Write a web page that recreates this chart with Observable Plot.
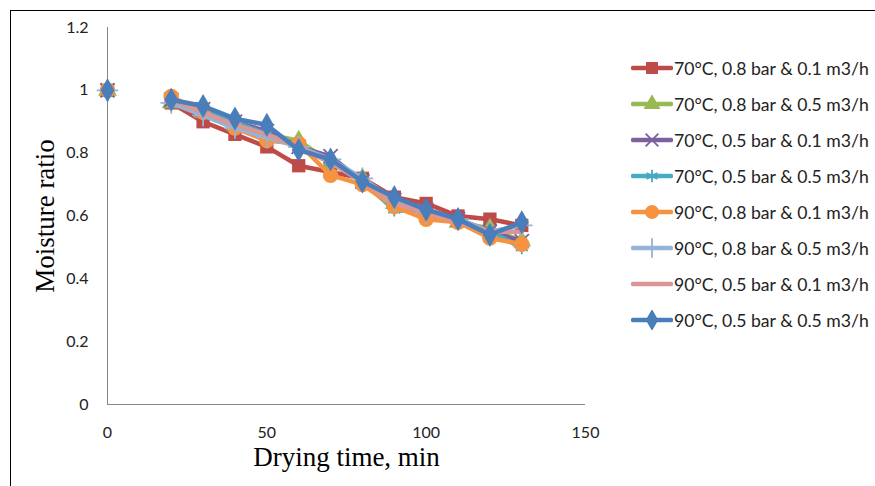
<!DOCTYPE html>
<html><head><meta charset="utf-8">
<script src="https://cdn.jsdelivr.net/npm/d3@7"></script>
<script src="https://cdn.jsdelivr.net/npm/@observablehq/plot@0.6"></script>
<style>
body{margin:0;background:#fff;}
#wrap{position:relative;width:875px;height:486px;overflow:hidden;}
#frame{position:absolute;left:10px;top:10px;width:900px;height:500px;border:1.5px solid #000;box-sizing:border-box;}
#chart{position:absolute;left:0;top:0;}
#legend{position:absolute;left:631px;top:50px;font-family:Lato,"Open Sans",sans-serif;font-size:17.6px;color:#222;}
.row{display:flex;align-items:center;height:36px;white-space:nowrap;}
.row svg{margin-right:1px;}
</style></head>
<body><div id="wrap"><div id="frame"></div><div id="chart"></div><div id="legend"></div></div>
<script>
const times = [0, 10, 20, 30, 40, 50, 60, 70, 80, 90, 100, 110, 120, 130];
const seriesNames = [
  "70°C, 0.8 bar & 0.1 m3/h",
  "70°C, 0.8 bar & 0.5 m3/h",
  "70°C, 0.5 bar & 0.1 m3/h",
  "70°C, 0.5 bar & 0.5 m3/h",
  "90°C, 0.8 bar & 0.1 m3/h",
  "90°C, 0.8 bar & 0.5 m3/h",
  "90°C, 0.5 bar & 0.1 m3/h",
  "90°C, 0.5 bar & 0.5 m3/h"
];
const s70_08_01 = [1, null, 0.96, 0.90, 0.86, 0.82, 0.76, 0.74, 0.72, 0.66, 0.64, 0.60, 0.59, 0.57];
const s70_08_05 = [1, null, 0.96, 0.93, 0.89, 0.86, 0.84, 0.77, 0.72, 0.64, 0.61, 0.58, 0.56, 0.52];
const s70_05_01 = [1, null, 0.97, 0.94, 0.90, 0.87, 0.82, 0.79, 0.71, 0.65, 0.62, 0.59, 0.55, 0.52];
const s70_05_05 = [1, null, 0.97, 0.94, 0.90, 0.86, 0.82, 0.77, 0.71, 0.62, 0.61, 0.58, 0.55, 0.50];
const s90_08_01 = [1, null, 0.98, 0.93, 0.88, 0.84, 0.83, 0.73, 0.70, 0.63, 0.59, 0.58, 0.53, 0.51];
const s90_08_05 = [1, null, 0.96, 0.92, 0.88, 0.85, 0.82, 0.78, 0.72, 0.65, 0.61, 0.59, 0.55, 0.57];
const s90_05_01 = [1, null, 0.97, 0.93, 0.89, 0.86, 0.82, 0.77, 0.71, 0.64, 0.61, 0.58, 0.55, 0.55];
const s90_05_05 = [1, null, 0.97, 0.95, 0.91, 0.89, 0.81, 0.78, 0.71, 0.66, 0.62, 0.59, 0.54, 0.58];
const seriesValues = [s70_08_01, s70_08_05, s70_05_01, s70_05_05, s90_08_01, s90_08_05, s90_05_01, s90_05_05];
const colors = ["#BE4B48", "#98B954", "#7D60A0", "#46AAC5", "#F69240", "#95B3D7", "#D99694", "#4A7EBB"];
const symbols = ["square", "triangle", "times", "asterisk", "circle", "plus", null, "diamond"];
const radii = [7.5, 7, 6.5, 6.5, 7.8, 7, 0, 7.3];
const xTicks = [0, 50, 100, 150];
const xTickLabels = ["0", "50", "100", "150"];
const yTicks = [0, 0.2, 0.4, 0.6, 0.8, 1, 1.2];
const yTickLabels = ["0", "0.2", "0.4", "0.6", "0.8", "1", "1.2"];

const data = [];
seriesNames.forEach((name, i) => times.forEach((t, j) => data.push({series: name, idx: i, time: t, mr: seriesValues[i][j]})));

const tickFont = "Lato, 'Open Sans', sans-serif";
const titleFont = "'Liberation Serif', 'Times New Roman', serif";
const marks = [
  Plot.ruleX([0], {y1: 0, y2: 1.2, stroke: "#868686", strokeWidth: 1}),
  Plot.ruleY([0], {x1: 0, x2: 150, stroke: "#868686", strokeWidth: 1}),
  Plot.axisX({ticks: xTicks, tickFormat: (d, i) => xTickLabels[i], tickSize: 0, tickPadding: 22, label: null, fontSize: 16, fontFamily: tickFont, color: "#222"}),
  Plot.axisY({ticks: yTicks, tickFormat: (d, i) => yTickLabels[i], tickSize: 0, tickPadding: 19, label: null, fontSize: 16, fontFamily: tickFont, color: "#222"}),
  Plot.text(["Moisture ratio"], {frameAnchor: "left", textAnchor: "middle", dx: -62, rotate: -90, fontFamily: titleFont, fontSize: 27, fill: "#000"}),
  Plot.text(["Drying time, min"], {frameAnchor: "bottom", textAnchor: "middle", dy: 61, fontFamily: titleFont, fontSize: 27, fill: "#000"})
];
seriesNames.forEach((name, i) => {
  const d = data.filter(r => r.idx === i);
  marks.push(Plot.line(d, {x: "time", y: "mr", stroke: colors[i], strokeWidth: 4.5, strokeLinejoin: "round", strokeLinecap: "round"}));
  const sym = symbols[i];
  if (sym) {
    const stroked = ["times", "asterisk", "plus"].includes(sym);
    marks.push(Plot.dot(d.filter(r => r.mr != null), {x: "time", y: "mr", symbol: () => sym, r: radii[i],
      fill: stroked ? "none" : colors[i], stroke: colors[i], strokeWidth: stroked ? 1.8 : 0}));
  }
});

const chart = Plot.plot({
  width: 875, height: 486,
  marginLeft: 107, marginRight: 290, marginTop: 27, marginBottom: 82,
  x: {domain: [0, 150]},
  y: {domain: [0, 1.2]},
  style: {background: "transparent"},
  marks
});
document.getElementById("chart").appendChild(chart);

const legend = document.getElementById("legend");
seriesNames.forEach((name, i) => {
  const row = document.createElement("div");
  row.className = "row";
  const svg = d3.create("svg").attr("width", 42).attr("height", 20);
  svg.append("line").attr("x1", 2).attr("x2", 40).attr("y1", 10).attr("y2", 10)
    .attr("stroke", colors[i]).attr("stroke-width", 4.5).attr("stroke-linecap", "round");
  const sym = symbols[i];
  if (sym) {
    const map = {square: d3.symbolSquare, triangle: d3.symbolTriangle, times: d3.symbolTimes, asterisk: d3.symbolAsterisk, circle: d3.symbolCircle, plus: d3.symbolPlus, diamond: d3.symbolDiamond};
    const stroked = ["times", "asterisk", "plus"].includes(sym);
    const r = radii[i] * 0.9;
    svg.append("path").attr("transform", "translate(21,10)")
      .attr("d", d3.symbol(map[sym], Math.PI * r * r)())
      .attr("fill", stroked ? "none" : colors[i]).attr("stroke", colors[i]).attr("stroke-width", stroked ? 1.8 : 0);
  }
  row.appendChild(svg.node());
  const span = document.createElement("span");
  span.textContent = name;
  row.appendChild(span);
  legend.appendChild(row);
});
</script></body></html>
